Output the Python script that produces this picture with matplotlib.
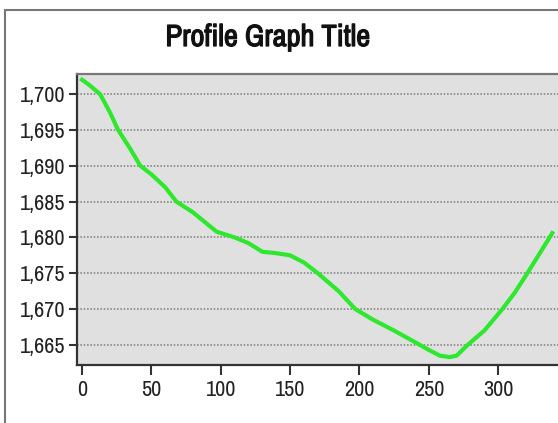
import matplotlib.pyplot as plt
import matplotlib.patheffects as pe
from matplotlib.patches import Rectangle
from matplotlib.ticker import FuncFormatter

# profile distance and elevation
dist = [0, 5, 13, 20, 26, 35, 42, 50, 60, 68, 80, 97, 110, 120, 130, 140, 150,
        160, 170, 185, 197, 210, 225, 239, 250, 258, 265, 270, 278, 290, 303,
        312, 321, 330, 339]
elev = [1702, 1701.3, 1700, 1697.5, 1695, 1692.3, 1690, 1688.8, 1687, 1685,
        1683.5, 1680.8, 1680, 1679.2, 1678, 1677.8, 1677.5, 1676.5, 1675,
        1672.5, 1670, 1668.5, 1667, 1665.5, 1664.3, 1663.5, 1663.3, 1663.5,
        1665, 1667, 1670, 1672.3, 1675, 1677.8, 1680.6]
xticks = [0, 50, 100, 150, 200, 250, 300]
yticks = [1665, 1670, 1675, 1680, 1685, 1690, 1695, 1700]

plt.rcParams['font.family'] = ['Archivo Narrow', 'Liberation Sans', 'DejaVu Sans']

fig = plt.figure(figsize=(5.58, 4.23), dpi=100)
fig.patches.append(Rectangle((5/558, -0.05), 1.1, 1 - 10/423 + 0.05,
                             transform=fig.transFigure, fill=False,
                             edgecolor='#777777', linewidth=1.5))
ax = fig.add_axes([77/558, 1 - 365/423, 485/558, 291/423])
ax.set_facecolor('#e0e0e0')

ax.plot(dist, elev, color='#2ee82e', linewidth=3)

ax.set_xlim(-3.6, 346)
ax.set_ylim(1662.2, 1702.8)
ax.set_xticks(xticks)
ax.set_yticks(yticks)
ax.yaxis.set_major_formatter(FuncFormatter(lambda v, p: '{:,.0f}'.format(v)))
ax.yaxis.grid(True, linestyle=(0, (1, 1)), color='#8a8a8a', linewidth=1.2)
ax.tick_params(axis='both', labelsize=16, direction='out', width=1.5,
               color='#333333', labelcolor='#222222')
ax.tick_params(axis='x', length=7, pad=4)
ax.tick_params(axis='y', length=6, pad=2)
for s in ax.spines.values():
    s.set_color('#333333')
    s.set_linewidth(1.6)
ax.spines['top'].set_color('#777777')

fig.text(268/558, 1 - 37/423, 'Profile Graph Title', ha='center', va='center',
         fontsize=22, color='#111111',
         path_effects=[pe.withStroke(linewidth=0.9, foreground='#111111')])

fig.savefig('out.png', dpi=100)
